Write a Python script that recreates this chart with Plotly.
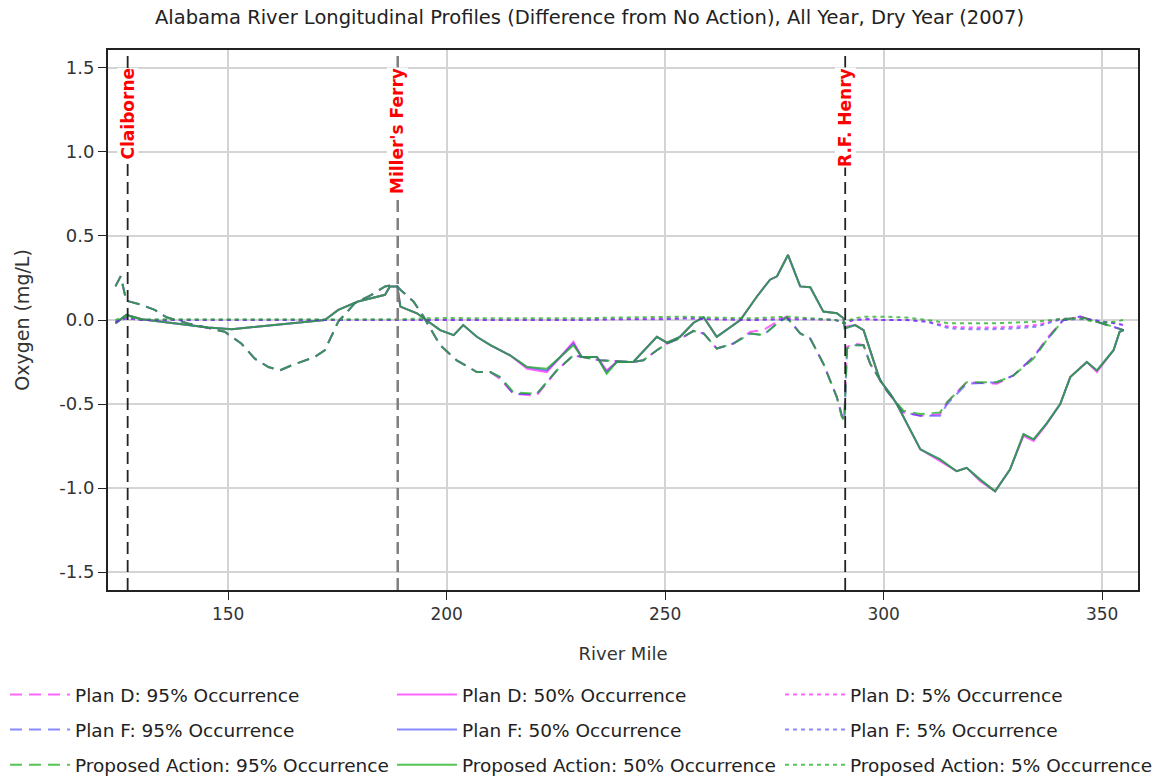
import plotly.graph_objects as go

# ---------------- data ----------------
# 95% occurrence (dashed)
x95 = [124.2, 125.4, 126.7, 130.2, 133.2, 135.9, 140.8, 145.4, 149.2, 153.0, 156.1, 159.2, 161.8,
       164.5, 166.8, 169.8, 172.1, 175.2, 179.0, 182.8, 185.9, 188.1, 188.7, 189.4, 192.4, 194.7,
       198.5, 202.3, 206.9, 210.0, 212.2, 215.3, 220.6, 225.2, 229.0, 230.9, 235.1, 242.7, 245.0,
       248.1, 250.4, 254.2, 256.5, 258.8, 261.8, 265.6, 269.5, 272.5, 275.6, 277.8, 280.9, 283.2,
       286.2, 289.3, 290.4, 291.0, 291.6, 293.5, 295.4, 296.9, 300.7, 304.5, 308.4, 312.9, 314.5,
       319.0, 325.9, 329.7, 334.3, 337.3, 341.1, 345.0, 348.8, 352.6, 354.9]
pa95 = [0.20, 0.26, 0.115, 0.09, 0.06, 0.016, -0.02, -0.045, -0.07, -0.14, -0.23, -0.28, -0.30,
        -0.27, -0.25, -0.22, -0.18, -0.01, 0.10, 0.15, 0.20, 0.21, 0.20, 0.18, 0.11, 0.02,
        -0.15, -0.24, -0.31, -0.31, -0.34, -0.43, -0.44, -0.30, -0.21, -0.22, -0.24, -0.25, -0.24,
        -0.18, -0.14, -0.10, -0.065, -0.08, -0.17, -0.14, -0.08, -0.09, -0.02, 0.016, -0.08, -0.11,
        -0.26, -0.46, -0.575, -0.60, -0.17, -0.15, -0.15, -0.26, -0.42, -0.54, -0.56, -0.55, -0.49,
        -0.37, -0.37, -0.33, -0.23, -0.12, 0.00, 0.02, -0.01, -0.04, -0.06]
d95 = [0.20, 0.26, 0.115, 0.09, 0.06, 0.016, -0.02, -0.045, -0.07, -0.14, -0.23, -0.28, -0.30,
       -0.27, -0.25, -0.22, -0.18, -0.01, 0.10, 0.15, 0.20, 0.21, 0.20, 0.18, 0.11, 0.02,
       -0.15, -0.24, -0.31, -0.31, -0.35, -0.44, -0.45, -0.30, -0.21, -0.22, -0.24, -0.25, -0.24,
       -0.18, -0.14, -0.10, -0.065, -0.08, -0.17, -0.14, -0.07, -0.06, -0.01, 0.02, -0.08, -0.11,
       -0.26, -0.46, -0.56, -0.59, -0.16, -0.14, -0.15, -0.26, -0.42, -0.55, -0.57, -0.56, -0.49,
       -0.37, -0.38, -0.33, -0.22, -0.11, 0.00, 0.02, -0.01, -0.04, -0.06]
f95 = [0.20, 0.26, 0.115, 0.09, 0.06, 0.016, -0.02, -0.045, -0.07, -0.14, -0.23, -0.28, -0.30,
       -0.27, -0.25, -0.22, -0.18, -0.01, 0.10, 0.15, 0.20, 0.21, 0.20, 0.18, 0.11, 0.02,
       -0.15, -0.24, -0.31, -0.31, -0.34, -0.44, -0.44, -0.30, -0.21, -0.22, -0.24, -0.25, -0.24,
       -0.18, -0.14, -0.10, -0.065, -0.08, -0.17, -0.14, -0.08, -0.09, -0.02, 0.016, -0.08, -0.11,
       -0.26, -0.46, -0.57, -0.60, -0.17, -0.15, -0.15, -0.26, -0.42, -0.55, -0.57, -0.57, -0.50,
       -0.38, -0.37, -0.33, -0.22, -0.12, 0.00, 0.02, -0.01, -0.04, -0.06]

# 50% occurrence (solid)
x50 = [124.2, 126.7, 130.2, 137.8, 145.4, 150.8, 156.9, 164.5, 172.1, 175.2, 179.7, 185.9, 187.0,
       188.1, 188.7, 189.4, 193.2, 198.5, 201.6, 203.8, 206.9, 210.0, 214.5, 218.4, 222.9, 226.0,
       229.0, 230.9, 234.4, 236.6, 238.9, 242.7, 248.1, 250.4, 253.4, 256.5, 258.8, 261.8, 267.2,
       271.0, 274.0, 275.6, 278.1, 280.9, 283.2, 286.2, 289.3, 290.8, 291.1, 293.5, 295.4, 298.4,
       299.2, 301.5, 303.0, 308.4, 312.9, 316.7, 319.0, 322.1, 325.5, 328.9, 332.0, 334.3, 337.3,
       340.4, 342.7, 346.5, 348.8, 352.6, 354.0, 354.9]
pa50 = [-0.02, 0.03, 0.004, -0.02, -0.045, -0.055, -0.04, -0.02, 0.00, 0.06, 0.11, 0.15, 0.20,
        0.20, 0.20, 0.08, 0.04, -0.06, -0.09, -0.03, -0.10, -0.15, -0.21, -0.28, -0.29, -0.22,
        -0.15, -0.22, -0.22, -0.32, -0.25, -0.25, -0.10, -0.135, -0.10, -0.016, 0.016, -0.10, 0.00,
        0.14, 0.24, 0.26, 0.387, 0.20, 0.195, 0.05, 0.04, 0.01, -0.05, -0.03, -0.06, -0.30,
        -0.36, -0.44, -0.50, -0.77, -0.83, -0.90, -0.88, -0.95, -1.02, -0.89, -0.68, -0.71, -0.615,
        -0.50, -0.34, -0.25, -0.30, -0.18, -0.07, -0.06]
d50 = [-0.02, 0.03, 0.004, -0.02, -0.045, -0.055, -0.04, -0.02, 0.00, 0.06, 0.11, 0.15, 0.20,
       0.20, 0.20, 0.08, 0.04, -0.06, -0.09, -0.03, -0.10, -0.15, -0.21, -0.29, -0.31, -0.22,
       -0.13, -0.22, -0.22, -0.30, -0.25, -0.25, -0.10, -0.135, -0.10, -0.016, 0.016, -0.10, 0.00,
       0.14, 0.24, 0.26, 0.387, 0.20, 0.195, 0.05, 0.04, 0.01, -0.04, -0.03, -0.06, -0.30,
       -0.36, -0.44, -0.50, -0.77, -0.84, -0.90, -0.88, -0.96, -1.02, -0.89, -0.69, -0.72, -0.62,
       -0.50, -0.34, -0.25, -0.31, -0.18, -0.07, -0.06]
f50 = [-0.02, 0.03, 0.004, -0.02, -0.045, -0.055, -0.04, -0.02, 0.00, 0.06, 0.11, 0.15, 0.20,
       0.20, 0.20, 0.08, 0.04, -0.06, -0.09, -0.03, -0.10, -0.15, -0.21, -0.28, -0.30, -0.22,
       -0.14, -0.22, -0.22, -0.31, -0.25, -0.25, -0.10, -0.135, -0.10, -0.016, 0.016, -0.10, 0.00,
       0.14, 0.24, 0.26, 0.387, 0.20, 0.195, 0.05, 0.04, 0.01, -0.05, -0.03, -0.06, -0.30,
       -0.36, -0.44, -0.50, -0.77, -0.83, -0.90, -0.88, -0.95, -1.02, -0.89, -0.68, -0.71, -0.615,
       -0.50, -0.34, -0.25, -0.30, -0.18, -0.07, -0.06]

# 5% occurrence (dotted)
x5 = [124.2, 126.7, 130, 140, 150, 160, 170, 180, 190, 195, 200, 210, 220, 230, 240, 250, 255,
      260, 270, 278, 285, 289, 291, 293, 296, 300, 305, 310, 315, 320, 325, 330, 335, 340, 345,
      348, 350, 353, 354.9]
pa5 = [0.00, 0.02, 0.005, 0.005, 0.005, 0.005, 0.005, 0.005, 0.005, 0.01, 0.012, 0.01, 0.01,
       0.01, 0.015, 0.02, 0.02, 0.015, 0.01, 0.02, 0.01, 0.00, -0.02, 0.01, 0.02, 0.02, 0.015,
       0.00, -0.02, -0.02, -0.02, -0.015, -0.01, 0.005, 0.01, -0.01, -0.015, -0.01, 0.00]
d5 = [-0.01, 0.01, 0.00, 0.00, 0.00, 0.00, 0.00, 0.00, 0.00, 0.00, 0.00, 0.00, 0.00,
      0.00, 0.005, 0.01, 0.01, 0.005, 0.00, 0.01, 0.005, 0.00, -0.02, 0.00, 0.005, 0.00, 0.00,
      -0.01, -0.04, -0.045, -0.045, -0.04, -0.03, 0.005, 0.015, 0.00, -0.01, -0.02, -0.03]
f5 = [-0.01, 0.01, 0.00, 0.00, 0.00, 0.00, 0.00, 0.00, 0.00, 0.00, 0.00, 0.00, 0.00,
      0.00, 0.005, 0.005, 0.01, 0.005, 0.00, 0.005, 0.005, 0.00, -0.02, 0.00, 0.005, 0.00, 0.00,
      -0.01, -0.05, -0.055, -0.055, -0.05, -0.04, 0.00, 0.005, 0.00, -0.01, -0.02, -0.03]

stations = ["Claiborne", "Miller's Ferry", "R.F. Henry"]
station_miles = [127.0, 188.8, 291.2]
station_colors = ["#222222", "#7f7f7f", "#222222"]

x_ticks = [150, 200, 250, 300, 350]
y_ticks = [-1.5, -1.0, -0.5, 0.0, 0.5, 1.0, 1.5]
y_tick_labels = ["-1.5", "-1.0", "-0.5", "0.0", "0.5", "1.0", "1.5"]

# ---------------- figure ----------------
MAG = "rgba(255,0,255,0.6)"
BLU = "rgba(40,40,255,0.55)"
GRN = "rgba(30,175,30,0.75)"

FONT = "DejaVu Sans, Verdana, sans-serif"
TXT = "#222222"

series = [
    ("Plan D: 95% Occurrence", x95, d95, MAG, "12px,7px", "legend"),
    ("Plan F: 95% Occurrence", x95, f95, BLU, "12px,7px", "legend"),
    ("Proposed Action: 95% Occurrence", x95, pa95, GRN, "12px,7px", "legend"),
    ("Plan D: 50% Occurrence", x50, d50, MAG, "solid", "legend2"),
    ("Plan F: 50% Occurrence", x50, f50, BLU, "solid", "legend2"),
    ("Proposed Action: 50% Occurrence", x50, pa50, GRN, "solid", "legend2"),
    ("Plan D: 5% Occurrence", x5, d5, MAG, "4px,4px", "legend3"),
    ("Plan F: 5% Occurrence", x5, f5, BLU, "4px,4px", "legend3"),
    ("Proposed Action: 5% Occurrence", x5, pa5, GRN, "4px,4px", "legend3"),
]

fig = go.Figure()
for name, xs, ys, col, dash, leg in series:
    fig.add_trace(go.Scatter(x=xs, y=ys, mode="lines", name=name, legend=leg,
                             legendgroup=name,
                             line=dict(color=col, width=2, dash=dash)))

for name, mile, col in zip(stations, station_miles, station_colors):
    fig.add_shape(type="line", xref="x", yref="paper", x0=mile, x1=mile, y0=0, y1=1,
                  line=dict(color=col, width=2.5 if col == "#7f7f7f" else 1.8, dash="12px,6px"),
                  layer="above")
    fig.add_annotation(x=mile, xref="x", y=0.968, yref="paper", text=f"<b>{name}</b>",
                       textangle=-90, showarrow=False, yanchor="top", xanchor="center",
                       font=dict(family=FONT, size=17, color="#ff0000"),
                       bgcolor="white", borderpad=0)

leg_common = dict(orientation="v", xref="paper", yref="paper",
                  xanchor="left", yanchor="top", y=-0.1593,
                  itemwidth=60, tracegroupgap=8, traceorder="grouped",
                  font=dict(family=FONT, size=18.5, color=TXT),
                  bgcolor="rgba(0,0,0,0)")

fig.update_layout(
    width=1172, height=780,
    margin=dict(l=108, r=34, t=50, b=190, autoexpand=False),
    paper_bgcolor="white", plot_bgcolor="white",
    title=dict(text="Alabama River Longitudinal Profiles (Difference from No Action), All Year, Dry Year (2007)",
               x=0.503, xanchor="center", xref="container", y=0.978, yanchor="middle",
               font=dict(family=FONT, size=19.5, color=TXT)),
    font=dict(family=FONT, color=TXT),
    legend=dict(x=-0.1, **leg_common),
    legend2=dict(x=0.2757, **leg_common),
    legend3=dict(x=0.6524, **leg_common),
    xaxis=dict(range=[122.5, 358.2], tickvals=x_ticks, ticks="outside", ticklen=8,
               tickcolor="#222222", showgrid=True, gridcolor="#d4d4d4", gridwidth=2,
               showline=True, linecolor="#222222", linewidth=2, mirror=True, zeroline=False,
               tickfont=dict(family=FONT, size=17, color="#333333"),
               title=dict(text="River Mile", font=dict(family=FONT, size=18, color="#333333"),
                          standoff=24)),
    yaxis=dict(range=[-1.607, 1.607], tickvals=y_ticks, ticktext=y_tick_labels, ticks="outside",
               ticklen=8, tickcolor="#222222", showgrid=True, gridcolor="#d4d4d4", gridwidth=2,
               showline=True, linecolor="#222222", linewidth=2, mirror=True, zeroline=False,
               tickfont=dict(family=FONT, size=18, color="#333333"),
               title=dict(text="Oxygen (mg/L)", font=dict(family=FONT, size=19, color="#333333"),
                          standoff=25)),
)

fig.write_html("out.html")
